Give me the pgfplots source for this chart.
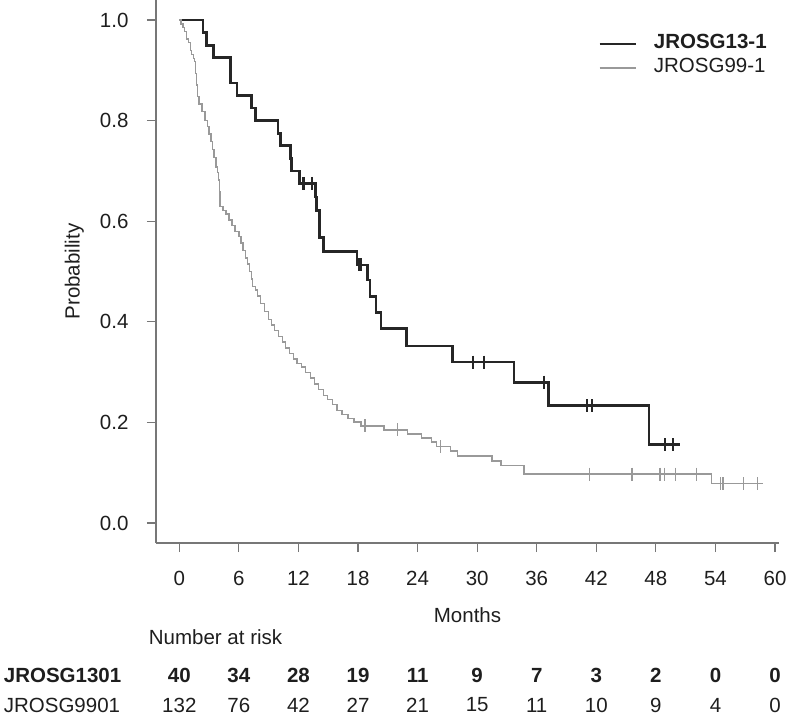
\documentclass[border=0pt]{standalone}
\usepackage{fontspec}
\setmainfont{Liberation Sans}
\usepackage{pgfplots}
\usepackage{pgfplotstable}
\pgfplotsset{compat=1.18}
\definecolor{kmA}{HTML}{262626}
\definecolor{kmB}{HTML}{999999}
\definecolor{axgray}{HTML}{777777}
\definecolor{txt}{HTML}{1E1E1E}
\newcommand{\fs}{\fontsize{20.5}{24}\selectfont}

\pgfplotstableread{
t s
0 1.000
2.38 0.975
2.72 0.950
3.46 0.925
5.14 0.875
5.80 0.850
7.25 0.825
7.65 0.800
9.94 0.775
10.17 0.750
11.18 0.725
11.28 0.700
12.10 0.675
13.73 0.648
13.80 0.621
14.10 0.567
14.50 0.540
17.90 0.513
18.97 0.483
19.20 0.450
19.80 0.418
20.30 0.386
22.90 0.352
27.50 0.320
33.70 0.280
37.20 0.233
47.30 0.156
50.40 0.156
}\curveA

\pgfplotstableread{
t s
12.52 0.675
13.36 0.675
18.07 0.513
18.30 0.513
29.6 0.320
30.7 0.320
36.7 0.280
41.05 0.233
41.56 0.233
48.9 0.156
49.7 0.156
}\censA

\pgfplotstableread{
t s
0 1.000
0.15 0.992
0.35 0.985
0.55 0.977
0.75 0.962
0.95 0.955
1.10 0.939
1.25 0.932
1.40 0.924
1.54 0.917
1.62 0.894
1.70 0.871
1.80 0.848
2.00 0.833
2.30 0.818
2.60 0.800
2.85 0.788
3.00 0.773
3.20 0.758
3.35 0.742
3.50 0.727
3.70 0.708
3.85 0.697
3.96 0.682
4.02 0.659
4.10 0.629
4.40 0.621
4.70 0.614
5.00 0.602
5.30 0.591
5.60 0.580
6.00 0.569
6.20 0.557
6.40 0.542
6.65 0.527
6.85 0.515
7.05 0.500
7.25 0.485
7.40 0.470
7.65 0.463
7.90 0.451
8.20 0.436
8.55 0.420
9.00 0.405
9.30 0.394
9.60 0.383
10.00 0.371
10.40 0.360
10.70 0.348
11.10 0.337
11.50 0.326
11.85 0.317
12.30 0.310
12.70 0.299
13.20 0.288
13.60 0.276
14.00 0.265
14.50 0.254
14.90 0.246
15.40 0.235
15.90 0.224
16.40 0.216
17.00 0.208
17.60 0.201
18.30 0.193
20.60 0.185
23.00 0.177
24.40 0.169
25.40 0.161
25.90 0.152
27.30 0.143
28.00 0.133
31.50 0.123
32.40 0.114
34.70 0.097
53.60 0.078
58.80 0.078
}\curveB

\pgfplotstableread{
t s
18.7 0.193
22.0 0.185
26.3 0.152
41.3 0.097
45.6 0.097
48.4 0.097
48.9 0.097
49.95 0.097
52.1 0.097
54.5 0.078
54.75 0.078
56.8 0.078
58.2 0.078
}\censB

\begin{document}
\begin{tikzpicture}
\useasboundingbox (-156pt,-172pt) rectangle (631pt,543pt);
\begin{axis}[
  at={(0pt,0pt)}, anchor=south west,
  scale only axis, width=623pt, height=543pt,
  xmin=-2.35, xmax=60.4, ymin=-0.0398, ymax=1.0398,
  axis lines=left,
  axis line style={-, axgray, line width=1.3pt},
  xtick={0,6,...,60}, ytick={0,0.2,0.4,0.6,0.8,1},
  xtick pos=left, ytick pos=left,
  tick align=outside, major tick length=9pt,
  tick style={axgray, line width=1.1pt},
  /pgf/number format/assume math mode=true,
  yticklabel style={/pgf/number format/.cd, fixed, fixed zerofill, precision=1, /tikz/.cd, xshift=-15pt},
  xticklabel style={/pgf/number format/.cd, fixed, precision=0, /tikz/.cd, yshift=-16pt},
  tick label style={font=\fs, text=txt},
  every axis x label/.style={at={(axis description cs:0.5,-0.1326)}, anchor=center, font=\fs, text=txt},
  every axis y label/.style={at={(axis description cs:-0.131,0.5)}, rotate=90, anchor=center, font=\fs, text=txt},
  xlabel={Months}, ylabel={Probability},
  clip=false,
  legend cell align=left,
  legend image code/.code={\draw[#1] (0pt,0pt) -- (36pt,0pt);},
  legend style={draw=none, fill=none, at={(axis description cs:0.7095,0.936)}, anchor=north west,
    inner sep=0pt, row sep=6pt, font=\fs,
    nodes={inner sep=0pt, text height=14pt, text depth=4pt, text=txt},
    /tikz/every odd column/.append style={column sep=17pt}},
]
\addplot[const plot, kmA, line width=2.7pt] table[x=t, y=s] {\curveA};
\addlegendentry{\textbf{JROSG13-1}}
\addplot[const plot, kmB, line width=1.4pt] table[x=t, y=s] {\curveB};
\addlegendentry{JROSG99-1}
\addplot[only marks, mark=|, mark size=6.5pt, mark options={kmA, line width=2.4pt}, forget plot] table[x=t, y=s] {\censA};
\addplot[only marks, mark=|, mark size=6.5pt, mark options={kmB, line width=1.3pt}, forget plot] table[x=t, y=s] {\censB};

\tikzset{rt/.style={font=\fs, text=txt}}
\node[rt, anchor=west] at (axis cs:-3.42,-0.2266) {Number at risk};
\node[rt, anchor=west] at (axis cs:-18.03,-0.3022) {\textbf{JROSG1301}};
\node[rt, anchor=west] at (axis cs:-18.03,-0.3618) {JROSG9901};
\node[rt] at (axis cs:0,-0.3022) {\textbf{40}};
\node[rt] at (axis cs:6,-0.3022) {\textbf{34}};
\node[rt] at (axis cs:12,-0.3022) {\textbf{28}};
\node[rt] at (axis cs:18,-0.3022) {\textbf{19}};
\node[rt] at (axis cs:24,-0.3022) {\textbf{11}};
\node[rt] at (axis cs:30,-0.3022) {\textbf{9}};
\node[rt] at (axis cs:36,-0.3022) {\textbf{7}};
\node[rt] at (axis cs:42,-0.3022) {\textbf{3}};
\node[rt] at (axis cs:48,-0.3022) {\textbf{2}};
\node[rt] at (axis cs:54,-0.3022) {\textbf{0}};
\node[rt] at (axis cs:60,-0.3022) {\textbf{0}};
\node[rt] at (axis cs:0,-0.3618) {132};
\node[rt] at (axis cs:6,-0.3618) {76};
\node[rt] at (axis cs:12,-0.3618) {42};
\node[rt] at (axis cs:18,-0.3618) {27};
\node[rt] at (axis cs:24,-0.3618) {21};
\node[rt] at (axis cs:30,-0.3618) {15};
\node[rt] at (axis cs:36,-0.3618) {11};
\node[rt] at (axis cs:42,-0.3618) {10};
\node[rt] at (axis cs:48,-0.3618) {9};
\node[rt] at (axis cs:54,-0.3618) {4};
\node[rt] at (axis cs:60,-0.3618) {0};
\end{axis}
\end{tikzpicture}
\end{document}
